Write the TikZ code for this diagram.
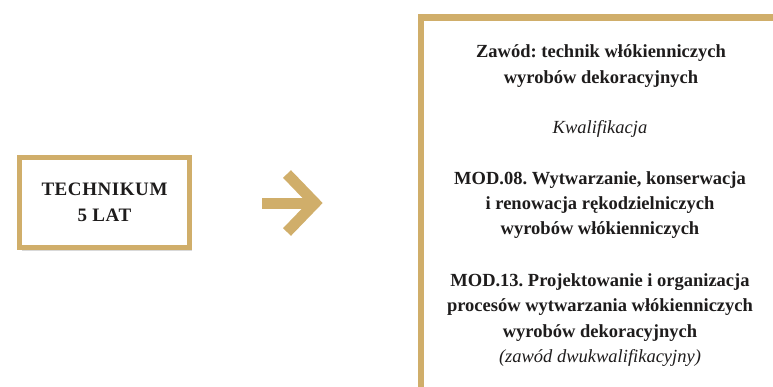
\documentclass[tikz,border=0pt]{standalone}
\usepackage{fontspec}
\setmainfont{Liberation Serif}
\frenchspacing
\usetikzlibrary{shadows}
\definecolor{gold}{HTML}{D0AE6A}
\definecolor{ink}{HTML}{1E1C1C}
\tikzset{
  frame/.style={draw=gold, fill=white, drop shadow={shadow xshift=2pt, shadow yshift=-3pt, opacity=.3}},
  boldtext/.style={align=center, text=ink, font=\fontsize{18.5}{25.4}\selectfont\bfseries},
  softtext/.style={align=center, text=ink, font=\fontsize{18.5}{25.4}\selectfont\itshape},
}
\begin{document}
\begin{tikzpicture}[x=1pt,y=-1pt]
\useasboundingbox (0,0) rectangle (773,386);
\clip (0,0) rectangle (773,386);
\node[frame, line width=5pt, minimum width=170pt, minimum height=90pt, boldtext,
  font=\fontsize{19}{26}\selectfont\bfseries\addfontfeature{LetterSpace=3}] (technikum) at (104.5,202.5) {TECHNIKUM\\5 LAT};
\coordinate (arrowtail) at (262,203);
\coordinate (arrowtip) at (315,203);
\draw[gold, line width=11pt] (arrowtail) -- (arrowtip);
\draw[gold, line width=11pt, line join=miter] ([shift={(-28,-29)}]arrowtip) -- (arrowtip) -- ([shift={(-28,29)}]arrowtip);
\node[frame, line width=6.5pt, minimum width=358pt, minimum height=420pt] (zawod) at (600,227.5) {};
\node[boldtext] (title) at (601,66) {Zawód: technik włókienniczych\\wyrobów dekoracyjnych};
\node[softtext, font=\fontsize{18.5}{25.4}\selectfont\itshape\mdseries] (kwal) at (600,129) {Kwalifikacja};
\node[boldtext] (mod08) at (600,205) {MOD.08. Wytwarzanie, konserwacja\\i renowacja rękodzielniczych\\wyrobów włókienniczych};
\node[boldtext] (mod13) at (600,320) {MOD.13. Projektowanie i organizacja\\procesów wytwarzania włókienniczych\\wyrobów dekoracyjnych\\{\mdseries\itshape(zawód dwukwalifikacyjny)}};
\end{tikzpicture}
\end{document}
